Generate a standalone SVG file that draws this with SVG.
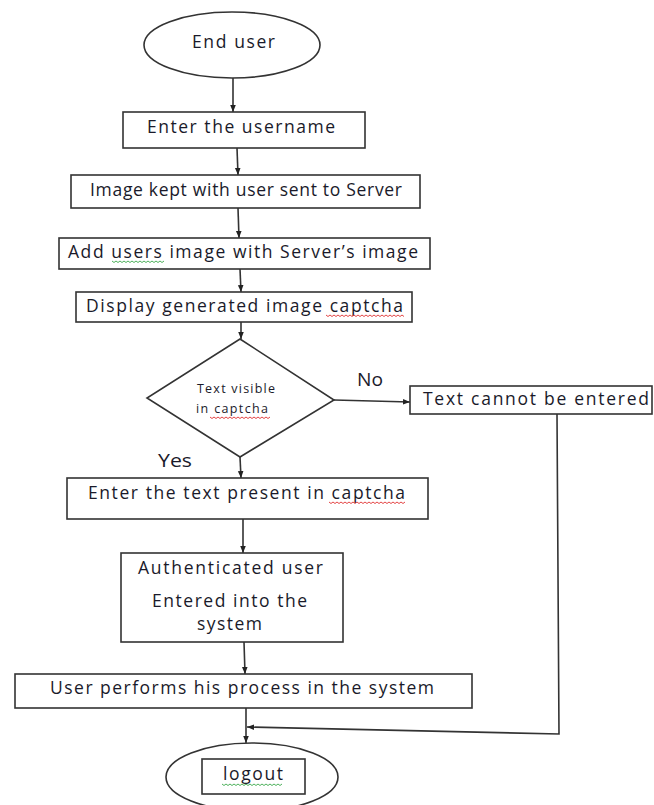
<svg xmlns="http://www.w3.org/2000/svg" width="654" height="805" viewBox="0 0 654 805">
<defs>
<marker id="ah" viewBox="0 0 10 10" refX="10" refY="5" markerWidth="7" markerHeight="7" orient="auto" markerUnits="userSpaceOnUse">
<path d="M0,1 L10,5 L0,9 z" fill="#222"/>
</marker>
<style>
.box{fill:#fff;stroke:#333;stroke-width:1.6}
.t{font-family:"Open Sans","Liberation Sans",sans-serif;font-size:17.5px;fill:#1a1a2a}
.s{font-family:"Open Sans","Liberation Sans",sans-serif;font-size:12.5px;fill:#1a1a2a}
.c{fill:none;stroke:#333;stroke-width:1.6;marker-end:url(#ah)}
.red{fill:none;stroke:#e03030;stroke-width:0.9}
.grn{fill:none;stroke:#3aa84a;stroke-width:0.9}
</style>
</defs>
<rect width="654" height="805" fill="#fff"/>

<g id="connectors">
<line class="c" x1="233" y1="78" x2="233" y2="112"/>
<line class="c" x1="237" y1="148" x2="238" y2="175"/>
<line class="c" x1="238" y1="208" x2="239" y2="238"/>
<line class="c" x1="240" y1="269" x2="241" y2="292"/>
<line class="c" x1="241" y1="322" x2="241" y2="339"/>
<line class="c" x1="334" y1="400" x2="410" y2="402"/>
<line class="c" x1="240" y1="457" x2="241" y2="478"/>
<line class="c" x1="243" y1="519" x2="243" y2="553"/>
<line class="c" x1="244" y1="642" x2="245" y2="674"/>
<line class="c" x1="246" y1="708" x2="246" y2="743"/>
<polyline class="c" points="557,414 559,734 247,727"/>
<text class="t" x="357" y="386" textLength="26" lengthAdjust="spacingAndGlyphs">No</text>
<text class="t" x="158" y="467" textLength="34" lengthAdjust="spacingAndGlyphs">Yes</text>
</g>

<g id="start">
<ellipse class="box" cx="232" cy="45" rx="88" ry="33"/>
<text class="t" x="192" y="48" textLength="83" lengthAdjust="spacing">End user</text>
</g>

<g id="username">
<rect class="box" x="123" y="112" width="242" height="36"/>
<text class="t" x="147" y="133" textLength="188" lengthAdjust="spacing">Enter the username</text>
</g>

<g id="imagekept">
<rect class="box" x="71" y="175" width="349" height="33"/>
<text class="t" x="90" y="196" textLength="312" lengthAdjust="spacing">Image kept with user sent to Server</text>
</g>

<g id="addimage">
<rect class="box" x="59" y="238" width="371" height="31"/>
<text class="t" x="68" y="258" textLength="350" lengthAdjust="spacing">Add users image with Server’s image</text>
<path class="grn" d="M112,261 l2,1.5 l2,-1.5 l2,1.5 l2,-1.5 l2,1.5 l2,-1.5 l2,1.5 l2,-1.5 l2,1.5 l2,-1.5 l2,1.5 l2,-1.5 l2,1.5 l2,-1.5 l2,1.5 l2,-1.5 l2,1.5 l2,-1.5 l2,1.5 l2,-1.5 l2,1.5 l2,-1.5 l2,1.5 l2,-1.5 l2,1.5 l2,-1.5"/>
</g>

<g id="display">
<rect class="box" x="76" y="292" width="336" height="30"/>
<text class="t" x="86" y="312" textLength="317" lengthAdjust="spacing">Display generated image captcha</text>
<path class="red" d="M326,315 l2,1.5 l2,-1.5 l2,1.5 l2,-1.5 l2,1.5 l2,-1.5 l2,1.5 l2,-1.5 l2,1.5 l2,-1.5 l2,1.5 l2,-1.5 l2,1.5 l2,-1.5 l2,1.5 l2,-1.5 l2,1.5 l2,-1.5 l2,1.5 l2,-1.5 l2,1.5 l2,-1.5 l2,1.5 l2,-1.5 l2,1.5 l2,-1.5 l2,1.5 l2,-1.5 l2,1.5 l2,-1.5 l2,1.5 l2,-1.5 l2,1.5 l2,-1.5 l2,1.5 l2,-1.5 l2,1.5 l2,-1.5 l2,1.5"/>
</g>

<g id="decision">
<polygon class="box" points="240,339 334,400 240,457 147,398"/>
<text class="s" x="197" y="393" textLength="78" lengthAdjust="spacing">Text visible</text>
<text class="s" x="196" y="413" textLength="72" lengthAdjust="spacing">in captcha</text>
<path class="red" d="M210,417 l2,1.5 l2,-1.5 l2,1.5 l2,-1.5 l2,1.5 l2,-1.5 l2,1.5 l2,-1.5 l2,1.5 l2,-1.5 l2,1.5 l2,-1.5 l2,1.5 l2,-1.5 l2,1.5 l2,-1.5 l2,1.5 l2,-1.5 l2,1.5 l2,-1.5 l2,1.5 l2,-1.5 l2,1.5 l2,-1.5 l2,1.5 l2,-1.5 l2,1.5 l2,-1.5 l2,1.5 l2,-1.5"/>
</g>

<g id="cannot">
<rect class="box" x="410" y="386" width="242" height="28"/>
<text class="t" x="423" y="405" textLength="226" lengthAdjust="spacing">Text cannot be entered</text>
</g>

<g id="entertext">
<rect class="box" x="67" y="478" width="361" height="41"/>
<text class="t" x="88" y="499" textLength="317" lengthAdjust="spacing">Enter the text present in captcha</text>
<path class="red" d="M329,502 l2,1.5 l2,-1.5 l2,1.5 l2,-1.5 l2,1.5 l2,-1.5 l2,1.5 l2,-1.5 l2,1.5 l2,-1.5 l2,1.5 l2,-1.5 l2,1.5 l2,-1.5 l2,1.5 l2,-1.5 l2,1.5 l2,-1.5 l2,1.5 l2,-1.5 l2,1.5 l2,-1.5 l2,1.5 l2,-1.5 l2,1.5 l2,-1.5 l2,1.5 l2,-1.5 l2,1.5 l2,-1.5 l2,1.5 l2,-1.5 l2,1.5 l2,-1.5 l2,1.5 l2,-1.5 l2,1.5 l2,-1.5"/>
</g>

<g id="authenticated">
<rect class="box" x="121" y="553" width="222" height="89"/>
<text class="t" x="138" y="574" textLength="185" lengthAdjust="spacing">Authenticated user</text>
<text class="t" x="152" y="607" textLength="155" lengthAdjust="spacing">Entered into the</text>
<text class="t" x="197" y="630" textLength="65" lengthAdjust="spacing">system</text>
</g>

<g id="performs">
<rect class="box" x="15" y="674" width="457" height="34"/>
<text class="t" x="50" y="694" textLength="384" lengthAdjust="spacing">User performs his process in the system</text>
</g>

<g id="logout">
<ellipse class="box" cx="252" cy="777" rx="86" ry="34"/>
<rect class="box" x="202" y="759" width="103" height="35"/>
<text class="t" x="223" y="780" textLength="60" lengthAdjust="spacing">logout</text>
<path class="grn" d="M222,784 l2,1.5 l2,-1.5 l2,1.5 l2,-1.5 l2,1.5 l2,-1.5 l2,1.5 l2,-1.5 l2,1.5 l2,-1.5 l2,1.5 l2,-1.5 l2,1.5 l2,-1.5 l2,1.5 l2,-1.5 l2,1.5 l2,-1.5 l2,1.5 l2,-1.5 l2,1.5 l2,-1.5 l2,1.5 l2,-1.5 l2,1.5 l2,-1.5 l2,1.5 l2,-1.5 l2,1.5 l2,-1.5"/>
</g>
</svg>
